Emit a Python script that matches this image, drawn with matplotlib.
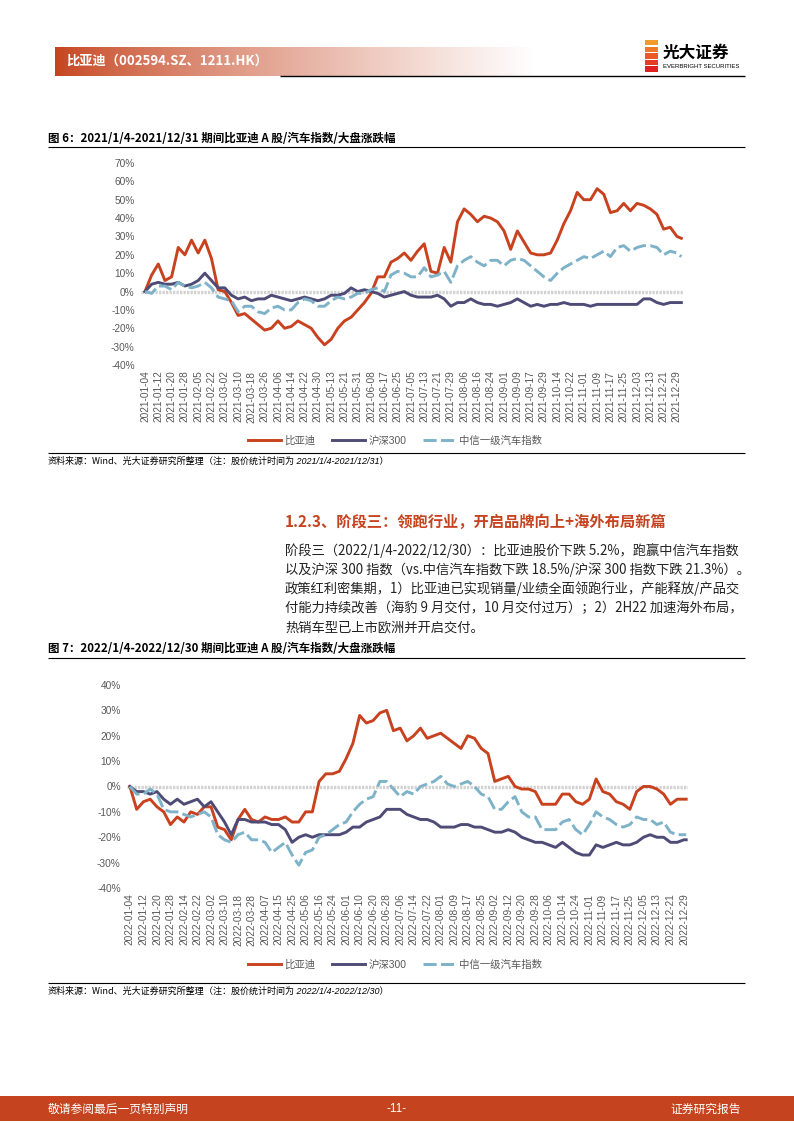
import matplotlib.pyplot as plt
import matplotlib.patches as mpatches
import numpy as np

plt.rcParams['font.family'] = ['Liberation Sans', 'Noto Sans CJK SC', 'DejaVu Sans']
CJK = ['Noto Sans CJK SC', 'DejaVu Sans']

W, H = 794, 1123
RED = '#C8421F'
PURPLE = '#4E4B76'
BLUE = '#7EB2C8'
GREY = '#595959'

# ---- 图6 数据 (2021) ----
series_names = ['比亚迪', '沪深300', '中信一级汽车指数']
dates_2021 = ['2021-01-04', '2021-01-12', '2021-01-20', '2021-01-28', '2021-02-05', '2021-02-22',
              '2021-03-02', '2021-03-10', '2021-03-18', '2021-03-26', '2021-04-06', '2021-04-14',
              '2021-04-22', '2021-04-30', '2021-05-13', '2021-05-21', '2021-05-31', '2021-06-08',
              '2021-06-17', '2021-06-25', '2021-07-05', '2021-07-13', '2021-07-21', '2021-07-29',
              '2021-08-06', '2021-08-16', '2021-08-24', '2021-09-01', '2021-09-09', '2021-09-17',
              '2021-09-29', '2021-10-14', '2021-10-22', '2021-11-01', '2021-11-09', '2021-11-17',
              '2021-11-25', '2021-12-03', '2021-12-13', '2021-12-21', '2021-12-29']
byd_2021 = [0, 9, 15, 6, 8, 24, 20, 28, 21, 28, 18, 1, 0, -6, -13, -12, -15, -18, -21, -20,
            -16, -20, -19, -16, -18, -20, -25, -29, -26, -20, -16, -14, -10, -6, -1, 8, 8, 16, 18, 21,
            17, 22, 26, 11, 10, 24, 16, 38, 45, 42, 38, 41, 40, 38, 33, 23, 33, 27, 21, 20,
            20, 21, 28, 37, 44, 54, 50, 50, 56, 53, 43, 44, 48, 44, 48, 47, 45, 42, 34, 35,
            30, 29]
hs300_2021 = [0, 4, 5, 4, 4, 5, 3, 4, 6, 10, 6, 2, 2, -2, -4, -3, -5, -4, -4, -2,
              -3, -4, -5, -4, -3, -4, -5, -4, -2, -2, -1, 2, 0, 1, 0, -1, -3, -2, -1, 0,
              -2, -3, -3, -3, -2, -4, -8, -6, -6, -4, -6, -7, -7, -8, -7, -6, -4, -6, -8, -7,
              -8, -7, -7, -6, -7, -7, -7, -8, -7, -7, -7, -7, -7, -7, -7, -4, -4, -6, -7, -6,
              -6, -6]
auto_2021 = [0, -1, 3, 3, 1, 5, 3, 2, 3, 5, 2, -3, -4, -5, -11, -8, -8, -11, -12, -9,
             -8, -10, -10, -6, -4, -5, -8, -8, -5, -3, -4, -3, -1, -1, 1, 2, 0, 9, 11, 10,
             8, 8, 13, 8, 9, 11, 5, 14, 17, 19, 16, 14, 17, 17, 14, 17, 18, 17, 14, 11,
             8, 6, 10, 13, 15, 17, 19, 18, 20, 22, 19, 24, 25, 22, 24, 25, 25, 24, 20, 22,
             21, 19]

# ---- 图7 数据 (2022) ----
dates_2022 = ['2022-01-04', '2022-01-12', '2022-01-20', '2022-01-28', '2022-02-14', '2022-02-22',
              '2022-03-02', '2022-03-10', '2022-03-18', '2022-03-28', '2022-04-07', '2022-04-15',
              '2022-04-25', '2022-05-06', '2022-05-16', '2022-05-24', '2022-06-01', '2022-06-10',
              '2022-06-20', '2022-06-28', '2022-07-06', '2022-07-14', '2022-07-22', '2022-08-01',
              '2022-08-09', '2022-08-17', '2022-08-25', '2022-09-02', '2022-09-12', '2022-09-20',
              '2022-09-28', '2022-10-06', '2022-10-14', '2022-10-24', '2022-11-01', '2022-11-09',
              '2022-11-17', '2022-11-25', '2022-12-05', '2022-12-13', '2022-12-21', '2022-12-29']
byd_2022 = [0, -9, -6, -5, -8, -10, -15, -12, -14, -10, -11, -8, -8, -16, -17, -21, -13, -9, -13, -14,
            -12, -13, -13, -12, -14, -14, -10, -10, 2, 5, 5, 6, 11, 17, 28, 25, 26, 29, 30, 22,
            23, 18, 20, 23, 19, 20, 21, 19, 17, 15, 20, 19, 15, 13, 2, 3, 4, 0, -1, -1,
            -2, -7, -7, -7, -3, -3, -6, -7, -5, 3, -2, -3, -6, -7, -9, -2, 0, 0, -1, -3,
            -7, -5, -5, -5]
hs300_2022 = [0, -2, -2, -3, -2, -5, -7, -5, -7, -6, -5, -8, -6, -10, -14, -19, -13, -13, -14, -14,
              -14, -15, -15, -17, -22, -20, -19, -20, -19, -19, -19, -19, -18, -16, -16, -14, -13, -12, -9, -9,
              -9, -11, -12, -13, -13, -14, -16, -16, -16, -15, -15, -16, -16, -17, -18, -18, -17, -18, -20, -21,
              -22, -22, -23, -24, -22, -24, -26, -27, -27, -23, -24, -23, -22, -23, -23, -22, -20, -19, -20, -20,
              -22, -22, -21, -21]
auto_2022 = [0, -3, -3, -1, -3, -9, -10, -10, -11, -12, -11, -10, -12, -19, -21, -22, -19, -18, -21, -21,
             -22, -26, -24, -22, -27, -31, -26, -25, -20, -19, -17, -15, -14, -10, -7, -5, -4, 2, 2, -1,
             -4, -2, -3, 0, 1, 2, 4, 1, 0, 1, 2, 0, -3, -4, -9, -9, -6, -4, -10, -12,
             -12, -17, -17, -17, -14, -13, -17, -19, -15, -10, -12, -13, -15, -16, -15, -12, -13, -13, -15, -14,
             -18, -19, -19, -19]

para_lines = [
    '阶段三（2022/1/4-2022/12/30）：比亚迪股价下跌 5.2%，跑赢中信汽车指数',
    '以及沪深 300 指数（vs.中信汽车指数下跌 18.5%/沪深 300 指数下跌 21.3%）。',
    '政策红利密集期，1）比亚迪已实现销量/业绩全面领跑行业，产能释放/产品交',
    '付能力持续改善（海豹 9 月交付，10 月交付过万）；2）2H22 加速海外布局，',
    '热销车型已上市欧洲并开启交付。',
]

fig = plt.figure(figsize=(W / 100, H / 100), dpi=100)
bg = fig.add_axes([0, 0, 1, 1], zorder=0)
bg.set_xlim(0, W)
bg.set_ylim(H, 0)
bg.axis('off')


def txt(x, y, s, **kw):
    kw.setdefault('va', 'center')
    bg.text(x, y, s, **kw)


def hline(x0, x1, y, lw=0.8, color='black'):
    bg.plot([x0, x1], [y, y], color=color, lw=lw, solid_capstyle='butt')


# header
grad = np.linspace(0, 1, 300) ** 0.8
c0 = np.array([0xC5, 0x44, 0x1F]) / 255
img = c0[None, None, :] * (1 - grad[None, :, None]) + grad[None, :, None]
bg.imshow(img, extent=[55, 535, 76, 47], aspect='auto', zorder=1)
txt(66, 61, '比亚迪（002594.SZ、1211.HK）', color='white', fontsize=9.5,
    fontweight='bold', family=CJK, zorder=3)
hline(280, 745, 76, lw=1.0)
logo_cols = ['#F39A2B', '#EF7A25', '#EA5A22', '#E53D22', '#E02020']
for i, c in enumerate(logo_cols):
    bg.add_patch(mpatches.Rectangle((645, 40 + i * 6.6), 13, 5.4, color=c, lw=0, zorder=2))
txt(663, 53, '光大证券', fontsize=12, fontweight='bold', family=CJK)
txt(663, 67, 'EVERBRIGHT SECURITIES', fontsize=4.3)


def chart(l, t, r, b, xlim, ylim, yticks, labels, series):
    ax = fig.add_axes([l / W, 1 - b / H, (r - l) / W, (b - t) / H], zorder=2)
    ax.patch.set_alpha(0)
    ax.axhline(0, color='#d2d2d2', lw=2.4, ls=(0, (0.7, 0.35)), zorder=1)
    handles = []
    for (x, y, c, style), name in zip(series, series_names):
        if style == 'dash':
            h, = ax.plot(x, y, color=c, lw=2.1, dashes=(4.5, 1.5), zorder=3)
        else:
            h, = ax.plot(x, y, color=c, lw=2.1, zorder=3)
        handles.append(h)
    ax.set_xlim(*xlim)
    ax.set_ylim(*ylim)
    ax.set_yticks(yticks, [f'{v}%' for v in yticks])
    ax.set_xticks(np.arange(len(labels)) * 6, labels, rotation=90)
    ax.tick_params(length=0, labelsize=7.3, labelcolor=GREY)
    ax.tick_params(axis='y', pad=4.5)
    ax.tick_params(axis='x', pad=4)
    for s in ax.spines.values():
        s.set_visible(False)
    return ax, handles


# ---- 图6 ----
txt(48, 138, '图 6：2021/1/4-2021/12/31 期间比亚迪 A 股/汽车指数/大盘涨跌幅',
    fontsize=8.3, fontweight='bold', family=CJK)
hline(48, 745, 147)
x21 = list(range(0, 241, 3)) + [242]
ax1, h1 = chart(141, 163, 684, 365, (-1.8, 243.2), (-40, 70), list(range(-40, 71, 10)), dates_2021,
                [(x21, byd_2021, RED, 'solid'), (x21, hs300_2021, PURPLE, 'solid'),
                 (x21, auto_2021, BLUE, 'dash')])
ax1.legend(h1, series_names, ncol=3, loc='center', bbox_to_anchor=(395 / W, 1 - 441 / H),
           bbox_transform=fig.transFigure, frameon=False, handlelength=3.2, handletextpad=0.3,
           columnspacing=1.6, labelcolor=GREY, prop={'family': ['Liberation Sans'] + CJK, 'size': 7.5})
hline(48, 745, 453)
txt(48, 461, '资料来源：Wind、光大证券研究所整理', fontsize=6.5, family=CJK)
txt(204, 461, '（注：股价统计时间为 2021/1/4-2021/12/31）', fontsize=6.5, style='italic',
    family=['Liberation Sans'] + CJK)

# ---- 文字 ----
txt(285, 522, '1.2.3、阶段三：领跑行业，开启品牌向上+海外布局新篇', fontsize=11,
    fontweight='bold', color='#C5441F', family=CJK)
for i, line in enumerate(para_lines):
    txt(285, 551 + i * 19, line, fontsize=9.55, family=CJK, color='#222222')

# ---- 图7 ----
txt(48, 649, '图 7：2022/1/4-2022/12/30 期间比亚迪 A 股/汽车指数/大盘涨跌幅',
    fontsize=8.3, fontweight='bold', family=CJK)
hline(48, 745, 658)
x22 = list(range(0, 247, 3)) + [247]
ax2, h2 = chart(127, 685, 688, 888, (-1.3, 247.8), (-40, 40), list(range(-40, 41, 10)), dates_2022,
                [(x22, byd_2022, RED, 'solid'), (x22, hs300_2022, PURPLE, 'solid'),
                 (x22, auto_2022, BLUE, 'dash')])
ax2.legend(h2, series_names, ncol=3, loc='center', bbox_to_anchor=(395 / W, 1 - 965 / H),
           bbox_transform=fig.transFigure, frameon=False, handlelength=3.2, handletextpad=0.3,
           columnspacing=1.6, labelcolor=GREY, prop={'family': ['Liberation Sans'] + CJK, 'size': 7.5})
hline(48, 745, 983)
txt(48, 991, '资料来源：Wind、光大证券研究所整理', fontsize=6.5, family=CJK)
txt(204, 991, '（注：股价统计时间为 2022/1/4-2022/12/30）', fontsize=6.5, style='italic',
    family=['Liberation Sans'] + CJK)

# footer
bg.add_patch(mpatches.Rectangle((0, 1096), W, 25, color='#C5441F', lw=0, zorder=1))
txt(48, 1109, '敬请参阅最后一页特别声明', fontsize=8.5, color='white', family=CJK, zorder=3)
txt(397, 1109, '-11-', fontsize=8.5, color='white', ha='center', zorder=3)
txt(741, 1109, '证券研究报告', fontsize=8.5, color='white', ha='right', family=CJK, zorder=3)

fig.savefig('out.png', dpi=100)
